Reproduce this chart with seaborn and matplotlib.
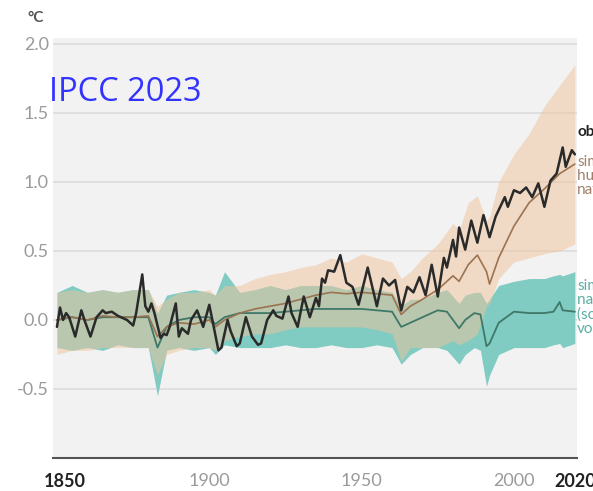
import matplotlib
matplotlib.use('Agg')
import matplotlib.pyplot as plt
import matplotlib.transforms as mtransforms
import numpy as np
import pandas as pd
import seaborn as sns

# observed global surface temperature change (°C)
obs_years = [1850, 1851, 1852, 1853, 1854, 1856, 1858, 1859, 1861, 1863, 1865, 1866,
             1868, 1870, 1871, 1873, 1875, 1876, 1878, 1879, 1880, 1881, 1882, 1884,
             1885, 1886, 1887, 1889, 1890, 1891, 1892, 1893, 1894, 1896, 1898, 1900,
             1901, 1903, 1904, 1906, 1907, 1909, 1910, 1912, 1914, 1916, 1917, 1919,
             1921, 1922, 1924, 1926, 1927, 1929, 1931, 1933, 1935, 1936, 1937, 1938,
             1939, 1941, 1943, 1945, 1947, 1949, 1952, 1955, 1957, 1959, 1961, 1963,
             1965, 1967, 1969, 1971, 1973, 1975, 1977, 1978, 1980, 1981, 1982, 1984,
             1986, 1988, 1990, 1992, 1994, 1997, 1998, 2000, 2002, 2004, 2006, 2008,
             2010, 2012, 2014, 2016, 2017, 2019, 2020]
obs_vals = [-0.05, 0.09, 0.0, 0.05, 0.02, -0.12, 0.07, 0.0, -0.12, 0.02, 0.07, 0.05,
            0.06, 0.03, 0.02, 0.0, -0.04, 0.05, 0.33, 0.1, 0.06, 0.12, 0.05, -0.13,
            -0.1, -0.11, -0.05, 0.12, -0.12, -0.06, -0.08, -0.1, 0.0, 0.07, -0.05, 0.11,
            0.0, -0.22, -0.2, 0.0, -0.08, -0.19, -0.17, 0.02, -0.12, -0.18, -0.17, 0.0,
            0.07, 0.03, 0.01, 0.17, 0.05, -0.05, 0.17, 0.02, 0.16, 0.1, 0.3, 0.27,
            0.36, 0.35, 0.47, 0.27, 0.24, 0.11, 0.38, 0.1, 0.3, 0.25, 0.29, 0.07,
            0.24, 0.2, 0.31, 0.18, 0.4, 0.17, 0.45, 0.38, 0.58, 0.46, 0.67, 0.51,
            0.72, 0.56, 0.76, 0.6, 0.75, 0.89, 0.82, 0.94, 0.92, 0.96, 0.89, 0.99,
            0.82, 1.01, 1.06, 1.25, 1.11, 1.23, 1.2]

# simulated human & natural (mean, low, high)
hum_years = [1850, 1855, 1860, 1865, 1870, 1875, 1880, 1883, 1886, 1890, 1895, 1900,
             1902, 1905, 1910, 1915, 1920, 1925, 1930, 1935, 1940, 1945, 1950, 1955,
             1960, 1963, 1966, 1970, 1975, 1980, 1982, 1985, 1988, 1991, 1992, 1995,
             2000, 2005, 2010, 2015, 2020]
hum_mean = [0.0, 0.02, 0.0, 0.03, 0.02, 0.02, 0.03, -0.12, -0.05, -0.02, -0.03, 0.0,
            -0.05, 0.0, 0.05, 0.08, 0.1, 0.12, 0.15, 0.18, 0.2, 0.19, 0.2, 0.19,
            0.18, 0.04, 0.1, 0.15, 0.22, 0.32, 0.28, 0.4, 0.47, 0.35, 0.26, 0.45,
            0.68, 0.85, 0.95, 1.06, 1.13]
hum_low = [-0.25, -0.22, -0.22, -0.2, -0.2, -0.2, -0.2, -0.4, -0.25, -0.22, -0.2, -0.2,
           -0.22, -0.15, -0.12, -0.1, -0.1, -0.07, -0.05, -0.05, -0.05, -0.05, -0.05, -0.07,
           -0.1, -0.3, -0.2, -0.2, -0.2, -0.15, -0.18, -0.15, -0.1, 0.1, 0.12, 0.3,
           0.42, 0.45, 0.48, 0.5, 0.55]
hum_high = [0.2, 0.22, 0.2, 0.22, 0.2, 0.22, 0.22, 0.1, 0.15, 0.2, 0.2, 0.22,
            0.18, 0.25, 0.25, 0.3, 0.33, 0.35, 0.38, 0.4, 0.45, 0.42, 0.48, 0.45,
            0.42, 0.3, 0.35, 0.45, 0.55, 0.7, 0.65, 0.85, 0.9, 0.72, 0.75, 1.0,
            1.2, 1.35, 1.55, 1.7, 1.85]

# simulated natural only (solar & volcanic)
nat_years = [1850, 1855, 1860, 1865, 1870, 1875, 1880, 1883, 1886, 1890, 1895, 1900,
             1902, 1905, 1910, 1915, 1920, 1925, 1930, 1935, 1940, 1945, 1950, 1955,
             1960, 1963, 1966, 1970, 1975, 1978, 1982, 1984, 1987, 1989, 1991, 1992,
             1995, 2000, 2005, 2010, 2013, 2015, 2016, 2020]
nat_mean = [0.0, 0.02, 0.0, 0.02, 0.02, 0.02, 0.02, -0.2, -0.05, 0.0, 0.02, 0.02,
            -0.03, 0.02, 0.05, 0.05, 0.05, 0.06, 0.07, 0.08, 0.08, 0.08, 0.08, 0.07,
            0.06, -0.05, -0.02, 0.02, 0.07, 0.06, -0.06, 0.0, 0.05, 0.04, -0.19, -0.17,
            -0.02, 0.06, 0.05, 0.05, 0.06, 0.13, 0.07, 0.06]
nat_low = [-0.2, -0.22, -0.2, -0.22, -0.18, -0.2, -0.2, -0.55, -0.22, -0.2, -0.22, -0.2,
           -0.25, -0.18, -0.2, -0.2, -0.2, -0.18, -0.2, -0.2, -0.18, -0.2, -0.2, -0.18,
           -0.2, -0.32, -0.25, -0.2, -0.2, -0.22, -0.32, -0.25, -0.2, -0.22, -0.48, -0.4,
           -0.25, -0.2, -0.2, -0.2, -0.18, -0.17, -0.2, -0.17]
nat_high = [0.2, 0.25, 0.2, 0.22, 0.2, 0.22, 0.22, 0.05, 0.18, 0.2, 0.22, 0.2,
            0.18, 0.35, 0.2, 0.22, 0.25, 0.22, 0.25, 0.25, 0.25, 0.22, 0.25, 0.22,
            0.2, 0.1, 0.15, 0.15, 0.2, 0.22, 0.12, 0.18, 0.2, 0.2, 0.12, 0.15,
            0.25, 0.28, 0.3, 0.3, 0.32, 0.33, 0.32, 0.35]

x_ticks = [1850, 1900, 1950, 2000, 2020]
y_ticks = [-0.5, 0.0, 0.5, 1.0, 1.5, 2.0]

obsDF = pd.DataFrame({'year': obs_years, 'temp': obs_vals})
humDF = pd.DataFrame({'year': hum_years, 'temp': hum_mean, 'low': hum_low, 'high': hum_high})
natDF = pd.DataFrame({'year': nat_years, 'temp': nat_mean, 'low': nat_low, 'high': nat_high})

sns.set_style('white', {'axes.facecolor': '#f2f2f2'})
plt.rcParams['font.family'] = ['Lato', 'DejaVu Sans']

fig = plt.figure(figsize=(5.93, 4.91), dpi=100)
ax = fig.add_axes([53/593, 1 - 458/491, 524/593, 420/491])

ax.fill_between(natDF['year'], natDF['low'], natDF['high'], color='#80cbc2', lw=0, zorder=1)
ax.fill_between(humDF['year'], humDF['low'], humDF['high'], color='#f0c49a', alpha=0.5, lw=0, zorder=2)

sns.lineplot(data=natDF, x='year', y='temp', ax=ax, color='#3f7868', lw=1.3, zorder=3)
sns.lineplot(data=humDF, x='year', y='temp', ax=ax, color='#9b7350', lw=1.2, zorder=3)
sns.lineplot(data=obsDF, x='year', y='temp', ax=ax, color='#2a2a2a', lw=1.8, zorder=4)

ax.set_xlim(1848.7, 2020.7)
ax.set_ylim(-1.0, 2.043)
ax.set_xlabel('')
ax.set_ylabel('')

ax.set_yticks(y_ticks)
ax.set_yticklabels(['%.1f' % v for v in y_ticks])
ax.yaxis.grid(True, color='#dcdcdc', lw=1.2)
ax.set_axisbelow(True)
ax.tick_params(axis='y', length=0, pad=3, labelsize=13, labelcolor='#9a9a9a')

ax.set_xticks(x_ticks)
ax.set_xticks(np.arange(1850, 2021, 10), minor=True)
ax.set_xticklabels([str(y) for y in x_ticks])
ax.tick_params(axis='x', which='both', direction='out', color='#555555', width=1.2)
ax.tick_params(axis='x', which='major', length=4, pad=7, labelsize=13, labelcolor='#9a9a9a')
ax.tick_params(axis='x', which='minor', length=3)
for i in (0, -1):
    lab = ax.get_xticklabels()[i]
    lab.set_fontweight('bold')
    lab.set_color('#222222')
    ax.xaxis.get_major_ticks()[i].tick1line.set_markersize(8)
# the first year label sits a little right of its tick
first = ax.get_xticklabels()[0]
first.set_transform(first.get_transform() + mtransforms.ScaledTranslation(8/100, 0, fig.dpi_scale_trans))

for side in ['left', 'right', 'top']:
    ax.spines[side].set_visible(False)
ax.spines['bottom'].set_color('#555555')
ax.spines['bottom'].set_linewidth(1.5)

fig.text(27/593, 1 - 22/491, '°C', fontsize=11, color='#555555', fontweight='bold')
fig.text(49/593, 1 - 101/491, 'IPCC 2023', fontsize=23.5, color='#3333ff', family=['Open Sans', 'DejaVu Sans'])

fig.text(577/593, 1 - 125/491, 'observed', fontsize=11, color='#222222', fontweight='bold', va='top')
fig.text(577/593, 1 - 155/491, 'simulated\nhuman and\nnatural', fontsize=11, color='#a0806a',
         linespacing=1.0, va='top')
fig.text(577/593, 1 - 279/491, 'simulated\nnatural only\n(solar and\nvolcanic)', fontsize=11,
         color='#5aaea4', linespacing=1.0, va='top')

plt.savefig('out.png', dpi=100)
